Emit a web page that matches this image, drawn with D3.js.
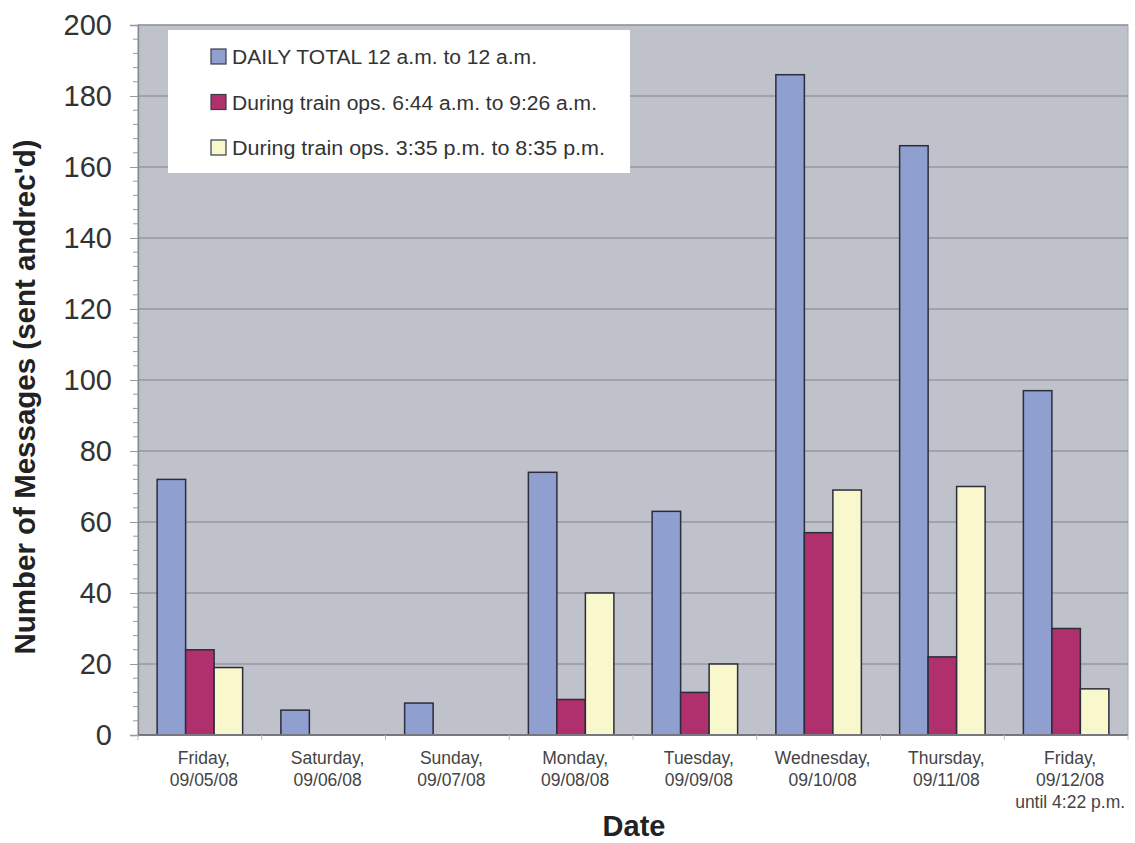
<!DOCTYPE html>
<html><head><meta charset="utf-8">
<script src="https://cdn.jsdelivr.net/npm/d3@7"></script>
<style>body{margin:0;background:#fff}svg{display:block}</style>
</head><body><svg id="c" width="1135" height="843"></svg>
<script>
const categories = [
  ["Friday,","09/05/08"],["Saturday,","09/06/08"],["Sunday,","09/07/08"],["Monday,","09/08/08"],
  ["Tuesday,","09/09/08"],["Wednesday,","09/10/08"],["Thursday,","09/11/08"],["Friday,","09/12/08","until 4:22 p.m."]
];
const seriesNames = ["DAILY TOTAL 12 a.m. to 12 a.m.","During train ops. 6:44 a.m. to 9:26 a.m.","During train ops. 3:35 p.m.  to 8:35 p.m."];
const dailyTotal = [72, 7, 9, 74, 63, 186, 166, 97];
const morningOps = [24, 0, 0, 10, 12, 57, 22, 30];
const eveningOps = [19, 0, 0, 40, 20, 69, 70, 13];
const yTicks = [0,20,40,60,80,100,120,140,160,180,200];
const colors = ["#8f9fd0","#b0306e","#f9f7cc"];

const svg = d3.select("#c");
const FONT = "Liberation Sans, Arial, sans-serif";
const L=138, R=1128, T=25, B=735;
const x = d3.scaleBand().domain(d3.range(categories.length)).range([L,R]);
const y = d3.scaleLinear().domain([0,200]).range([B,T]);
const series=[dailyTotal,morningOps,eveningOps];
const barW=28.5;
const xs = d3.scaleBand().domain([0,1,2]).range([0,barW*3]);

svg.append("rect").attr("x",L).attr("y",T).attr("width",R-L).attr("height",B-T).attr("fill","#c0c2cb").attr("stroke","#a6a8b0");
// gridlines
svg.append("g").selectAll("line").data(yTicks.slice(1)).join("line")
  .attr("x1",L).attr("x2",R).attr("y1",d=>y(d)).attr("y2",d=>y(d)).attr("stroke","#9597a0").attr("stroke-width",1.5);
// minor ticks
svg.append("g").selectAll("line").data(d3.range(0,201,4).filter(v=>v%20)).join("line")
  .attr("x1",L-5).attr("x2",L).attr("y1",d=>y(d)).attr("y2",d=>y(d)).attr("stroke","#999").attr("stroke-width",1);
// y axis
const ya = svg.append("g").attr("transform",`translate(${L},0)`).call(d3.axisLeft(y).tickValues(yTicks).tickSize(8).tickPadding(18));
ya.select(".domain").attr("stroke","#8a8c94").attr("stroke-width",1.5);
ya.selectAll(".tick line").attr("stroke","#999");
ya.selectAll("text").attr("font-family",FONT).attr("font-size",29).attr("fill","#333").attr("dy","0.34em");

// bars
const g = svg.append("g");
series.forEach((vals,si)=>{
  g.selectAll(".s"+si).data(vals.map((v,i)=>({v,i}))).join("rect")
   .filter(d=>d.v>0)
   .attr("x",d=>x(d.i)+x.bandwidth()/2-barW*1.5+xs(si))
   .attr("y",d=>y(d.v)).attr("width",barW).attr("height",d=>B-y(d.v))
   .attr("fill",colors[si]).attr("stroke","#2c2c3c").attr("stroke-width",1.5);
});
// x axis line & ticks
svg.append("line").attr("x1",L).attr("x2",R).attr("y1",B).attr("y2",B).attr("stroke","#77787f").attr("stroke-width",2);
svg.append("g").selectAll("line").data(d3.range(categories.length+1)).join("line")
  .attr("x1",d=>L+d*x.step()).attr("x2",d=>L+d*x.step()).attr("y1",B).attr("y2",B+5).attr("stroke","#bbb");
// x labels
const xl = svg.append("g").attr("font-family",FONT).attr("font-size",17.5).attr("fill","#444").attr("text-anchor","middle");
categories.forEach((c,i)=>{
  const t=xl.append("text");
  c.forEach((s,j)=>t.append("tspan").attr("x",x(i)+x.bandwidth()/2+4).attr("y",764+j*22).text(s));
});
// titles
svg.append("text").attr("x",634).attr("y",836).attr("text-anchor","middle").attr("font-family",FONT).attr("font-weight","bold").attr("font-size",29).attr("fill","#222").text("Date");
svg.append("text").attr("transform","translate(35,397) rotate(-90)").attr("text-anchor","middle").attr("font-family",FONT).attr("font-weight","bold").attr("font-size",29)
  .attr("textLength",515).attr("lengthAdjust","spacingAndGlyphs").attr("fill","#222").text("Number of Messages (sent andrec'd)");

// legend
const lg = svg.append("g");
lg.append("rect").attr("x",168).attr("y",30).attr("width",462).attr("height",143).attr("fill","#fff");
seriesNames.forEach((n,i)=>{
  const yy=57+i*45.5;
  lg.append("rect").attr("x",211).attr("y",yy-8).attr("width",15).attr("height",15).attr("fill",colors[i]).attr("stroke","#3a3a48").attr("stroke-width",1.2);
  lg.append("text").attr("x",232).attr("y",yy+7).attr("font-family",FONT).attr("font-size",19.5).attr("fill","#333")
    .attr("textLength",[305,365,373][i]).attr("lengthAdjust","spacingAndGlyphs").text(n);
});
</script></body></html>
